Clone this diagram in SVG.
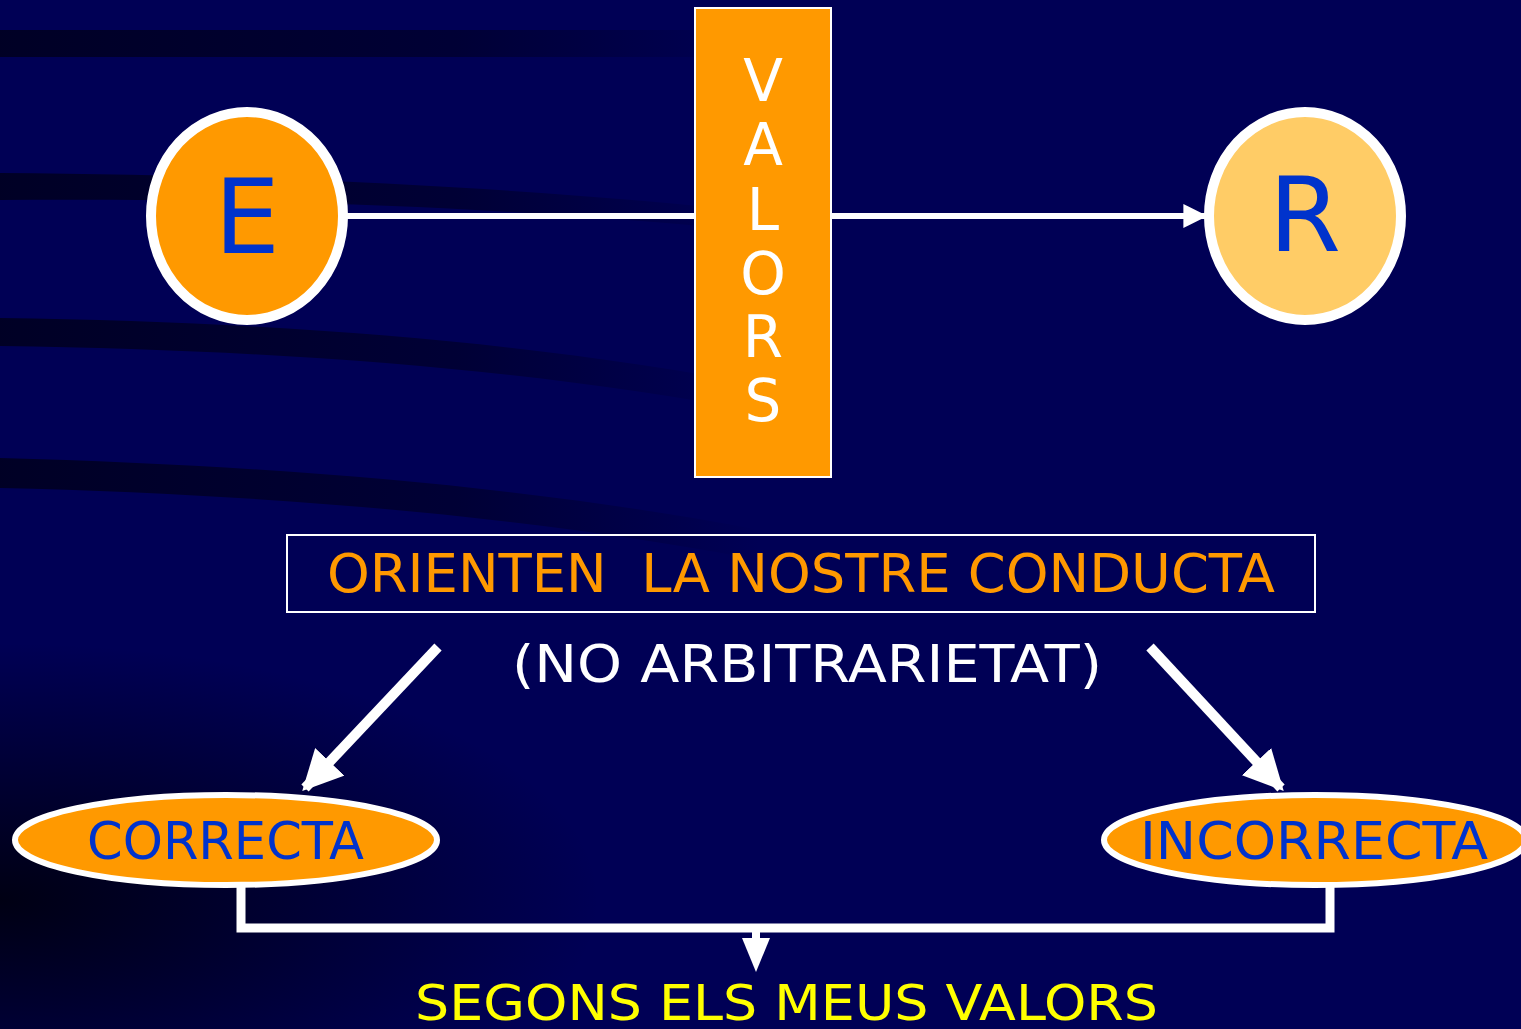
<svg xmlns="http://www.w3.org/2000/svg" width="1521" height="1029" viewBox="0 0 1521 1029">
<defs>
<linearGradient id="fadeR" x1="0" y1="0" x2="1" y2="0">
<stop offset="0" stop-color="#000020" stop-opacity="0.9"/>
<stop offset="0.6" stop-color="#000020" stop-opacity="0.6"/>
<stop offset="1" stop-color="#000020" stop-opacity="0"/>
</linearGradient>
<radialGradient id="darkBL" cx="0" cy="0.7" r="0.6">
<stop offset="0" stop-color="#000010" stop-opacity="0.95"/>
<stop offset="1" stop-color="#000010" stop-opacity="0"/>
</radialGradient>
<marker id="ah" viewBox="0 0 10 10" refX="9" refY="5" markerWidth="4" markerHeight="4" orient="auto" markerUnits="strokeWidth">
<path d="M0,0 L10,5 L0,10 Z" fill="#FFFFFF"/>
</marker>
<style>
.lbl{font-family:"Comic Sans MS","DejaVu Sans","Liberation Sans",sans-serif;}
.node{stroke:#FFFFFF;}
.conn{stroke:#FFFFFF;fill:none;}
</style>
</defs>
<rect width="1521" height="1029" fill="#000055"/>
<g id="background">
<rect x="0" y="30" width="760" height="27" fill="url(#fadeR)"/>
<path d="M0,173 C300,175 550,190 760,212 L760,232 C550,210 300,198 0,200 Z" fill="url(#fadeR)"/>
<path d="M0,318 C300,322 550,345 760,385 L760,412 C550,372 300,350 0,346 Z" fill="url(#fadeR)"/>
<path d="M0,458 C300,466 550,490 760,530 L760,560 C550,520 300,495 0,488 Z" fill="url(#fadeR)"/>
<path d="M0,600 C300,610 600,650 900,900 L1000,1029 L0,1029 Z" fill="url(#darkBL)"/>
</g>
<g id="connectors">
<line class="conn" x1="345" y1="216" x2="696" y2="216" stroke-width="6"/>
<line class="conn" x1="831" y1="216" x2="1205" y2="216" stroke-width="6" marker-end="url(#ah)"/>
<line class="conn" x1="438" y1="647" x2="305" y2="788" stroke-width="10" marker-end="url(#ah)"/>
<line class="conn" x1="1150" y1="647" x2="1281" y2="788" stroke-width="10" marker-end="url(#ah)"/>
<polyline class="conn" points="241,884 241,928 1330,928 1330,884" stroke-width="9"/>
<line class="conn" x1="756" y1="928" x2="756" y2="940" stroke-width="8"/>
<path d="M742,938 L770,938 L756,972 Z" fill="#FFFFFF"/>
</g>
<g id="node-E">
<ellipse class="node" cx="247" cy="216" rx="96" ry="104" fill="#FF9900" stroke-width="10"/>
<text class="lbl" x="247" y="253" font-size="104" fill="#0033CC" text-anchor="middle">E</text>
</g>
<g id="node-R">
<ellipse class="node" cx="1305" cy="216" rx="96" ry="104" fill="#FFCC66" stroke-width="10"/>
<text class="lbl" x="1305" y="251" font-size="104" fill="#0033CC" text-anchor="middle">R</text>
</g>
<g id="node-valors">
<rect class="node" x="695" y="8" width="136" height="469" fill="#FF9900" stroke-width="2"/>
<g class="lbl" font-size="58" fill="#FFFFFF" text-anchor="middle">
<text x="763" y="101">V</text>
<text x="763" y="165">A</text>
<text x="763" y="230">L</text>
<text x="763" y="294">O</text>
<text x="763" y="357">R</text>
<text x="763" y="421">S</text>
</g>
</g>
<g id="node-orienten">
<rect x="287" y="535" width="1028" height="77" fill="none" stroke="#FFFFFF" stroke-width="2"/>
<text class="lbl" x="327" y="592" font-size="54" fill="#FF9900" textLength="948" lengthAdjust="spacingAndGlyphs" xml:space="preserve">ORIENTEN  LA NOSTRE CONDUCTA</text>
</g>
<g id="label-arbitrarietat">
<text class="lbl" x="512" y="682" font-size="52" fill="#FFFFFF" textLength="590" lengthAdjust="spacingAndGlyphs">(NO ARBITRARIETAT)</text>
</g>
<g id="node-correcta">
<ellipse class="node" cx="226" cy="840" rx="211" ry="45" fill="#FF9900" stroke-width="6"/>
<text class="lbl" x="87" y="859" font-size="52" fill="#0033CC" textLength="277" lengthAdjust="spacingAndGlyphs">CORRECTA</text>
</g>
<g id="node-incorrecta">
<ellipse class="node" cx="1315" cy="840" rx="211" ry="45" fill="#FF9900" stroke-width="6"/>
<text class="lbl" x="1140" y="859" font-size="52" fill="#0033CC" textLength="348" lengthAdjust="spacingAndGlyphs">INCORRECTA</text>
</g>
<g id="label-segons">
<text class="lbl" x="415" y="1020" font-size="50" fill="#FFFF00" textLength="743" lengthAdjust="spacingAndGlyphs">SEGONS ELS MEUS VALORS</text>
</g>
</svg>
